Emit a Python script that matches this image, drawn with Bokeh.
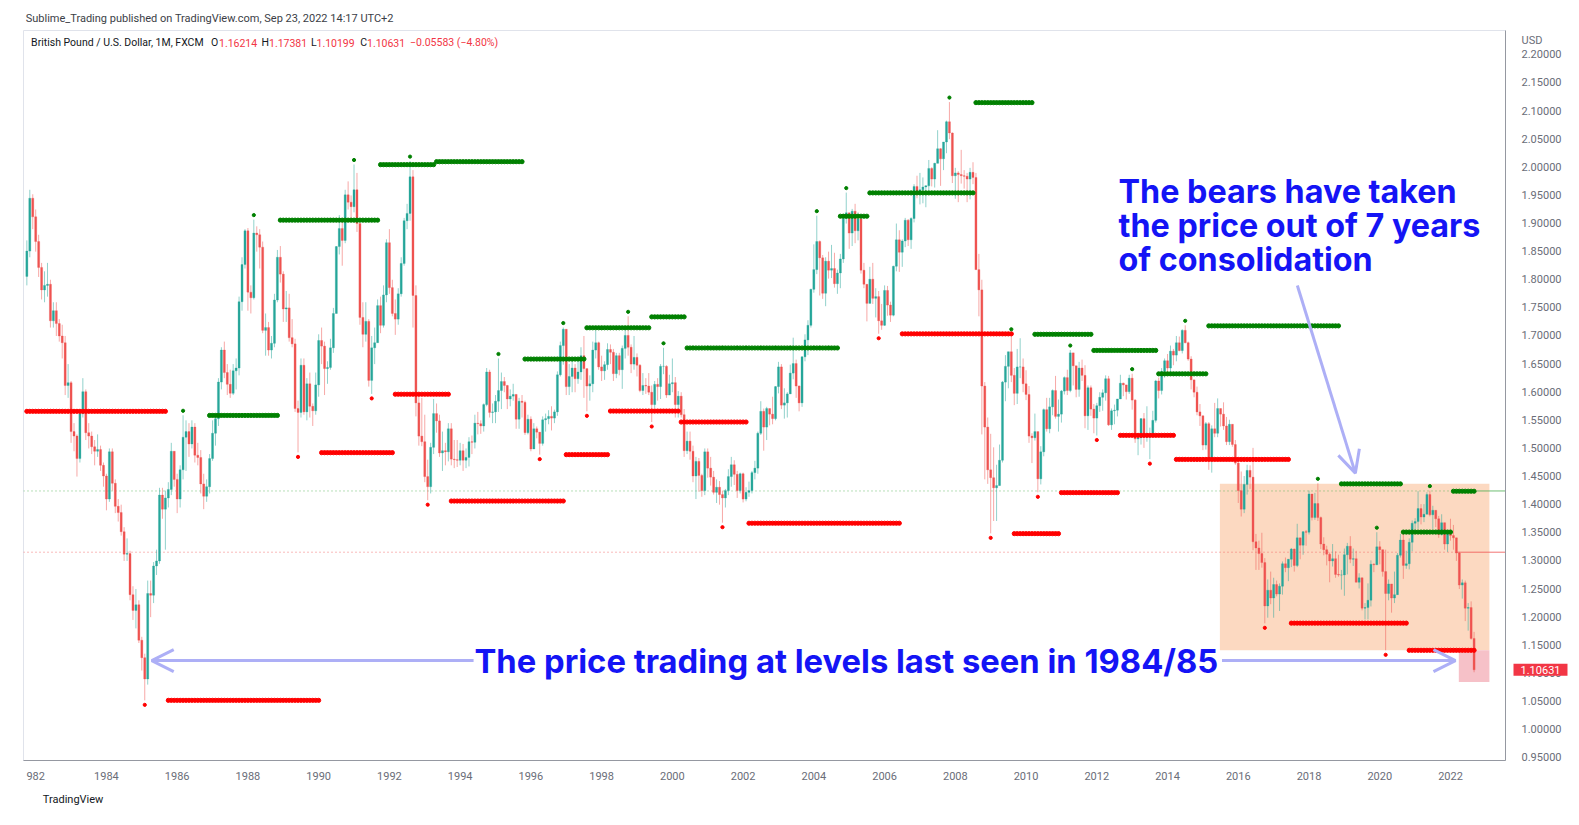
import numpy as np
import pandas as pd
from bokeh.plotting import figure
from bokeh.models import (Range1d, FixedTicker, PrintfTickFormatter, Label,
                          BoxAnnotation, Arrow, OpenHead, ColumnDataSource)
from bokeh.embed import file_html
from bokeh.resources import INLINE

# ---------------- data (GBP/USD, monthly, FXCM) ----------------
first_month = "1981-10"
first_open = 1.806

close = [
    1.851, 1.945, 1.912,
    1.868, 1.822, 1.782, 1.790, 1.792, 1.727, 1.745, 1.722, 1.700, 1.688, 1.612, 1.617,
    1.530, 1.522, 1.482, 1.562, 1.601, 1.528, 1.522, 1.503, 1.495, 1.498, 1.470, 1.451,
    1.410, 1.494, 1.438, 1.397, 1.386, 1.352, 1.312, 1.313, 1.240, 1.212, 1.222, 1.159,
    1.128, 1.090, 1.242, 1.239, 1.291, 1.300, 1.417, 1.392, 1.412, 1.427, 1.495, 1.445,
    1.410, 1.462, 1.520, 1.530, 1.508, 1.538, 1.488, 1.484, 1.437, 1.415, 1.432, 1.482,
    1.527, 1.553, 1.618, 1.675, 1.635, 1.614, 1.598, 1.638, 1.643, 1.761, 1.827, 1.887,
    1.778, 1.768, 1.883, 1.880, 1.858, 1.710, 1.715, 1.675, 1.687, 1.764, 1.840, 1.810,
    1.748, 1.750, 1.697, 1.686, 1.571, 1.564, 1.648, 1.565, 1.615, 1.575, 1.567, 1.613,
    1.692, 1.682, 1.642, 1.644, 1.679, 1.740, 1.859, 1.891, 1.870, 1.951, 1.938, 1.930,
    1.960, 1.900, 1.733, 1.703, 1.726, 1.621, 1.679, 1.688, 1.754, 1.719, 1.773, 1.866,
    1.786, 1.740, 1.730, 1.775, 1.829, 1.905, 1.918, 1.983, 1.772, 1.581, 1.522, 1.512,
    1.450, 1.432, 1.502, 1.562, 1.549, 1.492, 1.496, 1.494, 1.535, 1.481, 1.480, 1.479,
    1.496, 1.479, 1.484, 1.512, 1.511, 1.545, 1.544, 1.540, 1.578, 1.636, 1.564, 1.565,
    1.584, 1.603, 1.619, 1.612, 1.588, 1.593, 1.596, 1.552, 1.584, 1.582, 1.528, 1.552,
    1.499, 1.535, 1.529, 1.509, 1.551, 1.553, 1.557, 1.554, 1.565, 1.631, 1.683, 1.712,
    1.610, 1.628, 1.643, 1.624, 1.636, 1.665, 1.642, 1.611, 1.615, 1.675, 1.688, 1.645,
    1.638, 1.649, 1.676, 1.671, 1.633, 1.665, 1.640, 1.678, 1.701, 1.680, 1.650, 1.662,
    1.648, 1.603, 1.612, 1.611, 1.600, 1.578, 1.614, 1.610, 1.646, 1.646, 1.595, 1.615,
    1.617, 1.578, 1.593, 1.560, 1.496, 1.513, 1.495, 1.451, 1.477, 1.452, 1.425, 1.494,
    1.465, 1.449, 1.422, 1.431, 1.418, 1.412, 1.425, 1.450, 1.471, 1.454, 1.425, 1.455,
    1.410, 1.422, 1.425, 1.457, 1.465, 1.527, 1.566, 1.538, 1.571, 1.561, 1.553, 1.610,
    1.645, 1.577, 1.581, 1.597, 1.634, 1.651, 1.611, 1.581, 1.663, 1.693, 1.719, 1.783,
    1.818, 1.868, 1.839, 1.776, 1.833, 1.817, 1.820, 1.793, 1.812, 1.837, 1.909, 1.919,
    1.883, 1.922, 1.887, 1.908, 1.817, 1.792, 1.758, 1.801, 1.767, 1.770, 1.727, 1.719,
    1.781, 1.755, 1.737, 1.824, 1.871, 1.849, 1.869, 1.906, 1.871, 1.909, 1.966, 1.957,
    1.960, 1.965, 1.967, 1.998, 1.979, 2.007, 2.033, 2.015, 2.045, 2.081, 2.061, 1.985,
    1.990, 1.987, 1.985, 1.984, 1.979, 1.991, 1.982, 1.818, 1.782, 1.611, 1.538, 1.462,
    1.448, 1.430, 1.434, 1.479, 1.618, 1.646, 1.672, 1.630, 1.598, 1.645, 1.645, 1.615,
    1.596, 1.522, 1.519, 1.530, 1.446, 1.494, 1.569, 1.535, 1.574, 1.603, 1.557, 1.561,
    1.602, 1.626, 1.603, 1.670, 1.647, 1.605, 1.643, 1.630, 1.558, 1.608, 1.570, 1.554,
    1.576, 1.591, 1.599, 1.624, 1.542, 1.567, 1.568, 1.588, 1.616, 1.613, 1.601, 1.625,
    1.586, 1.517, 1.519, 1.553, 1.520, 1.521, 1.521, 1.550, 1.620, 1.603, 1.637, 1.656,
    1.643, 1.673, 1.666, 1.688, 1.674, 1.710, 1.688, 1.659, 1.622, 1.600, 1.565, 1.558,
    1.506, 1.544, 1.482, 1.535, 1.527, 1.571, 1.561, 1.540, 1.512, 1.543, 1.507, 1.474,
    1.425, 1.392, 1.436, 1.461, 1.449, 1.334, 1.323, 1.313, 1.297, 1.220, 1.248, 1.234,
    1.258, 1.241, 1.255, 1.295, 1.288, 1.303, 1.321, 1.292, 1.341, 1.328, 1.352, 1.351,
    1.419, 1.377, 1.402, 1.377, 1.330, 1.320, 1.312, 1.300, 1.304, 1.276, 1.275, 1.275,
    1.311, 1.326, 1.303, 1.304, 1.262, 1.270, 1.216, 1.217, 1.230, 1.294, 1.293, 1.325,
    1.320, 1.281, 1.242, 1.259, 1.234, 1.240, 1.310, 1.337, 1.292, 1.295, 1.333, 1.367,
    1.370, 1.393, 1.378, 1.383, 1.418, 1.382, 1.390, 1.375, 1.347, 1.368, 1.330, 1.353,
    1.345, 1.341, 1.314, 1.257, 1.261, 1.216, 1.217, 1.16214, 1.10631,
]

high = [
    1.870, 1.960, 1.952,
    1.925, 1.880, 1.830, 1.815, 1.830, 1.800, 1.760, 1.760, 1.730, 1.720, 1.700, 1.650,
    1.620, 1.545, 1.525, 1.570, 1.625, 1.605, 1.545, 1.530, 1.515, 1.525, 1.505, 1.475,
    1.455, 1.500, 1.500, 1.445, 1.410, 1.400, 1.360, 1.340, 1.318, 1.255, 1.250, 1.230,
    1.165, 1.135, 1.265, 1.265, 1.298, 1.320, 1.430, 1.430, 1.425, 1.440, 1.510, 1.495,
    1.455, 1.470, 1.559, 1.550, 1.545, 1.550, 1.545, 1.510, 1.497, 1.455, 1.445, 1.490,
    1.550, 1.560, 1.625, 1.680, 1.690, 1.650, 1.640, 1.650, 1.660, 1.770, 1.840, 1.890,
    1.892, 1.790, 1.907, 1.895, 1.890, 1.868, 1.740, 1.725, 1.700, 1.775, 1.853, 1.860,
    1.815, 1.780, 1.775, 1.730, 1.695, 1.585, 1.660, 1.660, 1.625, 1.635, 1.580, 1.635,
    1.703, 1.715, 1.690, 1.655, 1.695, 1.750, 1.860, 1.915, 1.905, 1.960, 1.975, 1.950,
    2.005, 1.990, 1.895, 1.760, 1.760, 1.730, 1.700, 1.715, 1.765, 1.770, 1.790, 1.872,
    1.890, 1.800, 1.765, 1.785, 1.840, 1.910, 1.935, 2.011, 1.995, 1.790, 1.600, 1.590,
    1.560, 1.480, 1.510, 1.588, 1.580, 1.560, 1.530, 1.510, 1.545, 1.545, 1.515, 1.515,
    1.510, 1.508, 1.500, 1.520, 1.523, 1.560, 1.565, 1.550, 1.580, 1.643, 1.640, 1.580,
    1.595, 1.660, 1.635, 1.627, 1.613, 1.605, 1.615, 1.597, 1.590, 1.595, 1.585, 1.560,
    1.557, 1.545, 1.539, 1.529, 1.557, 1.562, 1.568, 1.575, 1.569, 1.637, 1.690, 1.715,
    1.700, 1.650, 1.660, 1.650, 1.660, 1.680, 1.700, 1.640, 1.630, 1.690, 1.710, 1.690,
    1.665, 1.655, 1.687, 1.685, 1.677, 1.670, 1.670, 1.683, 1.715, 1.735, 1.685, 1.700,
    1.669, 1.650, 1.634, 1.625, 1.634, 1.612, 1.620, 1.625, 1.650, 1.679, 1.648, 1.631,
    1.660, 1.627, 1.602, 1.600, 1.570, 1.530, 1.530, 1.505, 1.485, 1.483, 1.455, 1.500,
    1.500, 1.485, 1.460, 1.445, 1.442, 1.425, 1.428, 1.463, 1.485, 1.479, 1.460, 1.457,
    1.457, 1.431, 1.441, 1.460, 1.478, 1.530, 1.584, 1.571, 1.574, 1.569, 1.592, 1.611,
    1.654, 1.650, 1.607, 1.600, 1.649, 1.697, 1.658, 1.612, 1.664, 1.703, 1.728, 1.784,
    1.863, 1.914, 1.870, 1.844, 1.840, 1.850, 1.862, 1.848, 1.818, 1.846, 1.914, 1.955,
    1.902, 1.926, 1.935, 1.920, 1.910, 1.830, 1.777, 1.823, 1.830, 1.785, 1.780, 1.757,
    1.790, 1.789, 1.761, 1.825, 1.900, 1.888, 1.872, 1.910, 1.908, 1.911, 1.970, 1.985,
    1.990, 1.982, 1.968, 2.013, 2.000, 2.008, 2.066, 2.034, 2.045, 2.083, 2.116, 2.062,
    1.999, 1.993, 2.031, 1.995, 1.990, 1.999, 2.009, 1.990, 1.846, 1.800, 1.618, 1.555,
    1.526, 1.502, 1.471, 1.507, 1.620, 1.666, 1.672, 1.704, 1.643, 1.677, 1.696, 1.660,
    1.639, 1.611, 1.527, 1.562, 1.530, 1.504, 1.571, 1.590, 1.590, 1.605, 1.629, 1.587,
    1.604, 1.628, 1.640, 1.675, 1.655, 1.646, 1.654, 1.658, 1.648, 1.612, 1.612, 1.579,
    1.581, 1.600, 1.605, 1.630, 1.629, 1.571, 1.578, 1.588, 1.631, 1.617, 1.612, 1.631,
    1.633, 1.588, 1.527, 1.554, 1.563, 1.575, 1.537, 1.567, 1.622, 1.626, 1.643, 1.660,
    1.668, 1.683, 1.677, 1.700, 1.699, 1.712, 1.719, 1.690, 1.664, 1.622, 1.610, 1.579,
    1.559, 1.547, 1.547, 1.541, 1.581, 1.589, 1.570, 1.582, 1.556, 1.551, 1.543, 1.515,
    1.478, 1.459, 1.451, 1.471, 1.470, 1.501, 1.348, 1.336, 1.350, 1.305, 1.267, 1.281,
    1.270, 1.265, 1.260, 1.299, 1.306, 1.302, 1.323, 1.322, 1.366, 1.338, 1.353, 1.355,
    1.425, 1.415, 1.421, 1.438, 1.379, 1.342, 1.327, 1.315, 1.330, 1.317, 1.311, 1.284,
    1.322, 1.332, 1.344, 1.322, 1.318, 1.278, 1.254, 1.225, 1.260, 1.301, 1.296, 1.351,
    1.335, 1.320, 1.320, 1.267, 1.254, 1.281, 1.314, 1.348, 1.348, 1.318, 1.340, 1.372,
    1.376, 1.424, 1.401, 1.401, 1.422, 1.425, 1.398, 1.389, 1.380, 1.383, 1.361, 1.355,
    1.375, 1.364, 1.330, 1.316, 1.267, 1.265, 1.225, 1.228, 1.17381,
]

low = [
    1.790, 1.840, 1.890,
    1.850, 1.805, 1.765, 1.760, 1.770, 1.715, 1.715, 1.700, 1.690, 1.660, 1.595, 1.590,
    1.510, 1.495, 1.450, 1.475, 1.555, 1.515, 1.500, 1.490, 1.470, 1.485, 1.460, 1.432,
    1.390, 1.405, 1.425, 1.385, 1.370, 1.345, 1.300, 1.300, 1.230, 1.195, 1.180, 1.154,
    1.105, 1.052, 1.080, 1.200, 1.225, 1.275, 1.295, 1.375, 1.320, 1.395, 1.417, 1.432,
    1.385, 1.395, 1.445, 1.460, 1.485, 1.500, 1.475, 1.470, 1.420, 1.392, 1.405, 1.420,
    1.478, 1.505, 1.540, 1.605, 1.625, 1.595, 1.590, 1.595, 1.605, 1.630, 1.745, 1.820,
    1.745, 1.740, 1.765, 1.850, 1.820, 1.705, 1.665, 1.665, 1.660, 1.680, 1.760, 1.795,
    1.725, 1.725, 1.690, 1.680, 1.565, 1.493, 1.555, 1.560, 1.550, 1.555, 1.540, 1.560,
    1.592, 1.650, 1.595, 1.615, 1.640, 1.670, 1.740, 1.845, 1.825, 1.865, 1.925, 1.905,
    1.920, 1.885, 1.720, 1.680, 1.690, 1.610, 1.597, 1.650, 1.690, 1.705, 1.715, 1.760,
    1.775, 1.735, 1.702, 1.720, 1.770, 1.825, 1.890, 1.905, 1.715, 1.557, 1.505, 1.504,
    1.440, 1.408, 1.420, 1.490, 1.528, 1.485, 1.460, 1.470, 1.477, 1.470, 1.465, 1.467,
    1.470, 1.460, 1.465, 1.468, 1.490, 1.500, 1.525, 1.526, 1.530, 1.575, 1.555, 1.545,
    1.545, 1.565, 1.570, 1.600, 1.570, 1.575, 1.585, 1.535, 1.535, 1.555, 1.524, 1.525,
    1.495, 1.500, 1.518, 1.489, 1.505, 1.530, 1.543, 1.532, 1.545, 1.558, 1.628, 1.649,
    1.595, 1.595, 1.600, 1.600, 1.615, 1.622, 1.590, 1.566, 1.585, 1.600, 1.660, 1.640,
    1.620, 1.622, 1.640, 1.650, 1.620, 1.625, 1.630, 1.606, 1.660, 1.665, 1.634, 1.640,
    1.628, 1.600, 1.595, 1.597, 1.595, 1.547, 1.572, 1.585, 1.588, 1.632, 1.590, 1.595,
    1.600, 1.555, 1.555, 1.555, 1.485, 1.490, 1.480, 1.440, 1.410, 1.423, 1.414, 1.417,
    1.448, 1.434, 1.418, 1.403, 1.400, 1.368, 1.395, 1.417, 1.432, 1.435, 1.412, 1.420,
    1.404, 1.406, 1.414, 1.420, 1.445, 1.455, 1.524, 1.496, 1.515, 1.541, 1.543, 1.550,
    1.598, 1.570, 1.553, 1.555, 1.599, 1.623, 1.590, 1.566, 1.574, 1.655, 1.666, 1.715,
    1.777, 1.810, 1.772, 1.766, 1.753, 1.802, 1.803, 1.786, 1.775, 1.785, 1.830, 1.900,
    1.855, 1.860, 1.865, 1.870, 1.811, 1.785, 1.726, 1.758, 1.757, 1.733, 1.704, 1.711,
    1.718, 1.736, 1.725, 1.735, 1.815, 1.814, 1.823, 1.858, 1.860, 1.855, 1.902, 1.945,
    1.934, 1.936, 1.929, 1.959, 1.966, 1.964, 2.008, 1.967, 1.995, 2.025, 2.050, 1.972,
    1.944, 1.938, 1.971, 1.962, 1.938, 1.943, 1.970, 1.818, 1.735, 1.525, 1.445, 1.437,
    1.349, 1.371, 1.371, 1.448, 1.475, 1.584, 1.607, 1.618, 1.577, 1.579, 1.625, 1.600,
    1.586, 1.510, 1.474, 1.514, 1.422, 1.436, 1.486, 1.530, 1.527, 1.559, 1.553, 1.530,
    1.546, 1.596, 1.595, 1.600, 1.612, 1.591, 1.592, 1.620, 1.536, 1.533, 1.558, 1.527,
    1.523, 1.565, 1.567, 1.585, 1.540, 1.533, 1.543, 1.557, 1.602, 1.593, 1.587, 1.597,
    1.569, 1.510, 1.488, 1.507, 1.501, 1.512, 1.481, 1.525, 1.546, 1.589, 1.596, 1.626,
    1.630, 1.631, 1.648, 1.655, 1.673, 1.669, 1.687, 1.656, 1.605, 1.591, 1.559, 1.540,
    1.497, 1.498, 1.462, 1.457, 1.520, 1.520, 1.539, 1.533, 1.506, 1.506, 1.503, 1.471,
    1.403, 1.379, 1.385, 1.418, 1.428, 1.319, 1.284, 1.284, 1.288, 1.189, 1.199, 1.223,
    1.199, 1.237, 1.211, 1.240, 1.280, 1.264, 1.289, 1.281, 1.289, 1.303, 1.311, 1.327,
    1.347, 1.372, 1.373, 1.371, 1.321, 1.310, 1.292, 1.262, 1.290, 1.270, 1.272, 1.249,
    1.238, 1.276, 1.296, 1.291, 1.262, 1.251, 1.212, 1.196, 1.196, 1.219, 1.280, 1.298,
    1.294, 1.272, 1.141, 1.230, 1.208, 1.225, 1.248, 1.306, 1.268, 1.286, 1.285, 1.317,
    1.349, 1.357, 1.365, 1.369, 1.387, 1.379, 1.357, 1.360, 1.341, 1.345, 1.320, 1.316,
    1.336, 1.320, 1.300, 1.250, 1.233, 1.193, 1.176, 1.160, 1.10199,
]

# resistance (fractal high) levels: start month, end month (exclusive), price
res_start = ["1986-12", "1988-12", "1991-10", "1993-05", "1995-11", "1997-08", "1999-06",
             "2000-06", "2004-10", "2005-08", "2008-08", "2010-04", "2011-12", "2013-10",
             "2015-03", "2018-12", "2020-09", "2022-02"]
res_end = ["1988-12", "1991-10", "1993-05", "1995-11", "1997-08", "1999-06", "2000-06",
           "2004-10", "2005-08", "2008-08", "2010-04", "2011-12", "2013-10", "2015-03",
           "2018-12", "2020-09", "2022-02", "2022-10"]
res_level = [1.5587, 1.906, 2.0047, 2.010, 1.659, 1.7146, 1.734, 1.6787, 1.913, 1.9545,
             2.115, 1.703, 1.6743, 1.6327, 1.718, 1.437, 1.3513, 1.4239]

# support (fractal low) levels
sup_start = ["1981-10", "1985-10", "1990-02", "1992-03", "1993-10", "1997-01", "1998-04",
             "2000-04", "2002-03", "2006-07", "2009-09", "2011-01", "2012-09", "2014-04",
             "2017-07", "2020-11"]
sup_end = ["1985-10", "1990-02", "1992-03", "1993-10", "1997-01", "1998-04", "2000-04",
           "2002-03", "2006-07", "2009-09", "2011-01", "2012-09", "2014-04", "2017-07",
           "2020-11", "2022-10"]
sup_level = [1.566, 1.052, 1.4925, 1.5964, 1.4065, 1.489, 1.5665, 1.547, 1.367, 1.7038,
             1.3485, 1.4214, 1.5233, 1.4805, 1.1893, 1.141]

# fractal pivot bars
pivot_high_months = ["1986-03", "1988-03", "1991-01", "1992-08", "1995-02", "1996-12",
                     "1998-10", "1999-10", "2004-02", "2004-12", "2007-11", "2009-08",
                     "2011-04", "2013-01", "2014-07", "2018-04", "2019-12", "2021-06"]
pivot_low_months = ["1985-02", "1989-06", "1991-07", "1993-02", "1996-04", "1997-08",
                    "1999-06", "2001-06", "2005-11", "2009-01", "2010-05", "2012-01",
                    "2013-07", "2016-10", "2020-03"]

# horizontal price lines
hline_levels = [1.4244, 1.3155]
hline_solid_from = ["2022-10", "2022-03"]

# user drawings
consol_box = dict(start=2015.48, end=2023.10, top=1.4373, bottom=1.141)
break_box = dict(start=2022.235, end=2023.10, top=1.141, bottom=1.0845)

price_ticks = [round(0.95 + 0.05 * i, 2) for i in range(26)]
currency_tick = 2.225
year_ticks = list(range(1982, 2023, 2))

# ---------------- derived ----------------
months = pd.period_range(first_month, periods=len(close), freq="M")
tx = np.asarray(months.year + (months.month - 1) / 12.0, dtype=float)
c = np.array(close, dtype=float)
h = np.array(high, dtype=float)
l = np.array(low, dtype=float)
o = np.concatenate([[first_open], c[:-1]])
h = np.maximum(h, np.maximum(o, c))
l = np.minimum(l, np.minimum(o, c))
up = c >= o

UP, DOWN = "#26a69a", "#ef5350"
col = np.where(up, UP, DOWN)
src = ColumnDataSource(dict(x=tx, top=np.maximum(o, c), bottom=np.minimum(o, c),
                            high=h, low=l, color=col))


def mx(s):
    pr = pd.Period(s, freq="M")
    return pr.year + (pr.month - 1) / 12.0


def seg_dots(starts, ends, levels):
    xs, ys = [], []
    for s, e, v in zip(starts, ends, levels):
        m = (tx >= mx(s) - 1e-6) & (tx < mx(e) - 1e-6)
        xs.extend(tx[m])
        ys.extend([v] * int(m.sum()))
    return xs, ys


# ---------------- geometry (frame in pixels) ----------------
FL, FR, FT, FB = 23, 1505, 30, 760
X0, X1 = 1981.6551, 2023.5550
Y0, Y1 = 0.94505, 2.24329


def px_x(px):
    return X0 + (px - FL) / (FR - FL) * (X1 - X0)


def px_y(py):
    return Y1 - (py - FT) / (FB - FT) * (Y1 - Y0)


p = figure(width=1579, height=825, x_range=Range1d(X0, X1), y_range=Range1d(Y0, Y1),
           y_axis_location="right", output_backend="svg", toolbar_location=None,
           min_border_left=FL, min_border_right=1579 - FR, min_border_top=FT,
           min_border_bottom=825 - FB)
p.xgrid.visible = False
p.ygrid.visible = False
p.outline_line_color = "#e0e3eb"
p.background_fill_color = "white"
p.border_fill_color = "white"

# boxes (under candles)
p.add_layout(BoxAnnotation(left=consol_box["start"], right=consol_box["end"],
                           top=consol_box["top"], bottom=consol_box["bottom"],
                           fill_color="#fcd9c1", fill_alpha=1.0, line_color=None,
                           level="underlay"))
p.add_layout(BoxAnnotation(left=break_box["start"], right=break_box["end"],
                           top=break_box["top"], bottom=break_box["bottom"],
                           fill_color="#f6c1c8", fill_alpha=1.0, line_color=None,
                           level="underlay"))

# horizontal lines
for lvl, sf, colr in zip(hline_levels, hline_solid_from, ["#4caf50", "#ef5350"]):
    xs = mx(sf)
    p.line([X0, xs], [lvl, lvl], line_color=colr, line_width=1, line_dash="1 3", line_alpha=0.8)
    p.line([xs, X1], [lvl, lvl], line_color=colr, line_width=1, line_alpha=0.8)

# candles
p.segment(x0="x", y0="low", x1="x", y1="high", source=src, line_color="color",
          line_alpha=0.5, line_width=1)
p.vbar(x="x", top="top", bottom="bottom", width=0.058, source=src,
       fill_color="color", line_color="color", line_width=0.3)

# level dots
rx, ry = seg_dots(res_start, res_end, res_level)
sx, sy = seg_dots(sup_start, sup_end, sup_level)
p.scatter(rx, ry, size=4.2, color="#008000", marker="circle")
p.scatter(sx, sy, size=4.2, color="#ff0000", marker="circle")

# pivot dots
idx_h = [int(np.argmin(np.abs(tx - mx(s)))) for s in pivot_high_months]
idx_l = [int(np.argmin(np.abs(tx - mx(s)))) for s in pivot_low_months]
p.scatter(tx[idx_h], h[idx_h] + 0.008, size=3.2, color="#008000", marker="circle")
p.scatter(tx[idx_l], l[idx_l] - 0.008, size=3.2, color="#ff0000", marker="circle")

# arrows
ARW = "#adaff6"
p.add_layout(Arrow(end=OpenHead(size=22, line_color=ARW, line_width=3),
                   x_start=2017.67, y_start=1.7898, x_end=2019.31, y_end=1.4561,
                   line_color=ARW, line_width=3))
p.add_layout(Arrow(end=OpenHead(size=22, line_color=ARW, line_width=3),
                   x_start=1994.38, y_start=1.1227, x_end=1985.28, y_end=1.1227,
                   line_color=ARW, line_width=3))
p.add_layout(Arrow(end=OpenHead(size=22, line_color=ARW, line_width=3),
                   x_start=2015.54, y_start=1.1227, x_end=2022.14, y_end=1.1227,
                   line_color=ARW, line_width=3))

# axes
yax = p.yaxis[0]
yax.ticker = FixedTicker(ticks=price_ticks + [currency_tick])
yax.formatter = PrintfTickFormatter(format="%.5f")
yax.major_label_overrides = {currency_tick: "USD"}
yax.major_tick_line_color = None
yax.minor_tick_line_color = None
yax.axis_line_color = "#9598a1"
yax.major_label_text_color = "#6a6d78"
yax.major_label_text_font = "Roboto"
yax.major_label_text_font_size = "11px"
yax.major_label_standoff = 10

xax = p.xaxis[0]
xax.ticker = FixedTicker(ticks=year_ticks)
xax.formatter = PrintfTickFormatter(format="%d")
xax.major_label_overrides = {1982: "982"}
xax.major_tick_line_color = None
xax.minor_tick_line_color = None
xax.axis_line_color = "#9598a1"
xax.major_label_text_color = "#6a6d78"
xax.major_label_text_font = "Roboto"
xax.major_label_text_font_size = "11px"
xax.major_label_standoff = 5

DARK, RED = "#131722", "#f23645"


def lab(px, py, text, color=DARK, size="10.5px", font="Roboto", style="normal",
        place=None, **kw):
    lbl = Label(x=px_x(px), y=px_y(py), text=text, text_color=color,
                text_font_size=size, text_font=font, text_font_style=style,
                text_baseline="middle", text_align="left", **kw)
    if place is None:
        p.add_layout(lbl)
    else:
        p.add_layout(lbl, place)   # side panel: drawn outside the plot frame


# header and footer (outside the plot frame)
lab(25.2, 18.1, "Sublime_Trading published on TradingView.com, Sep 23, 2022 14:17 UTC+2",
    color="#3b3e46", size="11px", place="above")
lab(42.3, 798.8, "TradingView", color=DARK, size="11px", place="below")

legend_items = [(30.6, "British Pound / U.S. Dollar, 1M, FXCM", DARK), (210.5, "O", DARK),
                (218.5, "1.16214", RED), (261.0, "H", DARK), (268.5, "1.17381", RED),
                (310.5, "L", DARK), (316.0, "1.10199", RED), (359.7, "C", DARK),
                (366.5, "1.10631", RED), (409.5, "\u22120.05583 (\u22124.80%)", RED)]
for px, t, cl in legend_items:
    lab(px, 42.3, t, color=cl)

# current price tag on the price scale
p.add_layout(Label(x=px_x(1513), y=close[-1], text="1.10631", text_color="white",
                   text_font="Roboto", text_font_size="11px", text_baseline="middle",
                   text_align="left", background_fill_color="#f23645", padding=(7, 2)),
             "below")

BLUE = "#1414f5"
for py, t in [(191.4, "The bears have taken"), (224.6, "the price out of 7 years"),
              (258.9, "of consolidation")]:
    lab(1118, py, t, color=BLUE, size="32.3px", font="Inter", style="bold")
lab(474, 660.8, "The price trading at levels last seen in 1984/85", color=BLUE,
    size="32.75px", font="Inter", style="bold")

open("out.html", "w").write(file_html(p, INLINE))
